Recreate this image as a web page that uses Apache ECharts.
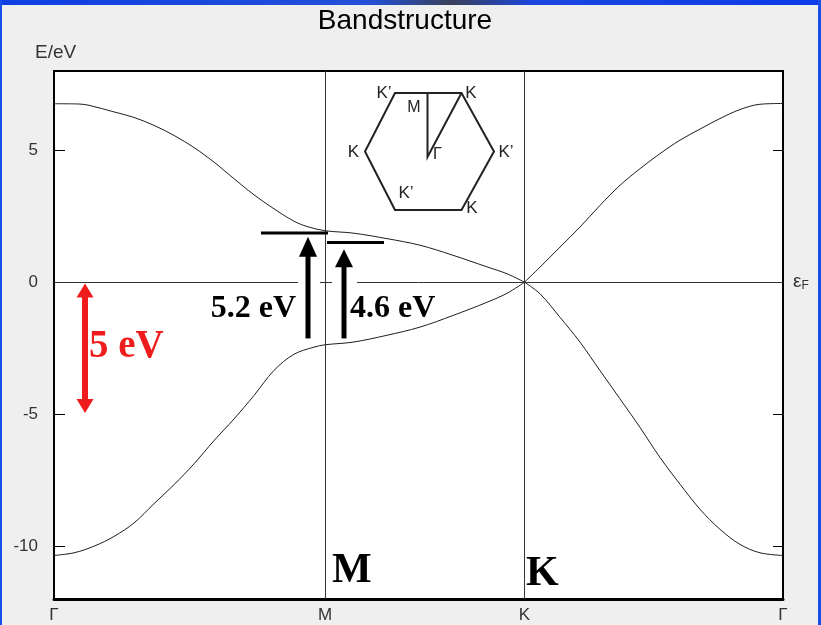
<!DOCTYPE html>
<html>
<head>
<meta charset="utf-8">
<script src="https://cdn.jsdelivr.net/npm/echarts@6/dist/echarts.min.js"></script>
<style>
  html, body { margin: 0; padding: 0; }
  #chart { width: 821px; height: 625px; }
</style>
</head>
<body>
<div id="chart"></div>
<script>
// k-path positions of the high-symmetry points and their labels
const kTicks = [0, 271, 470.5, 729];
const kTickLabels = ['Γ', 'M', 'K', 'Γ'];
const energyTicks = [-10, -5, 0, 5];

// upper (π*) band, [k, E/eV]: Γ → M → K, then K → Γ
const bandUpperGK = [
  [0, 6.76], [25, 6.75], [35, 6.70], [60, 6.45], [80, 6.24], [100, 5.94],
  [120, 5.56], [140, 5.10], [160, 4.55], [180, 3.92], [200, 3.31], [220, 2.78],
  [240, 2.31], [253, 2.11], [271, 1.95], [299, 1.86], [333, 1.65], [366, 1.40],
  [399, 1.02], [433, 0.58], [453, 0.32], [470.5, 0]
];
const bandUpperKG = [
  [470.5, 0], [486, 0.57], [506, 1.33], [526, 2.09], [546, 2.91], [566, 3.67],
  [586, 4.30], [606, 4.87], [626, 5.38], [646, 5.80], [666, 6.20], [686, 6.54],
  [706, 6.74], [729, 6.77]
];

// lower (π) band, [k, E/eV]: Γ → M → K, then K → Γ
const bandLowerGK = [
  [0, -10.35], [20, -10.25], [40, -10.0], [60, -9.63], [80, -9.12], [100, -8.39],
  [120, -7.67], [140, -6.88], [160, -6.0], [180, -5.18], [200, -4.29], [220, -3.34],
  [240, -2.73], [260, -2.46], [271, -2.37], [299, -2.27], [333, -2.01], [366, -1.70],
  [399, -1.26], [433, -0.76], [453, -0.42], [470.5, 0]
];
const bandLowerKG = [
  [470.5, 0], [486, -0.44], [506, -1.33], [526, -2.27], [546, -3.35], [566, -4.42],
  [586, -5.50], [606, -6.64], [626, -7.65], [646, -8.60], [666, -9.36], [686, -9.93],
  [706, -10.25], [729, -10.35]
];

const chart = echarts.init(document.getElementById('chart'), null, { renderer: 'canvas' });

const curveStyle = { color: '#1e1e1e', width: 1 };
function band(data) {
  return {
    type: 'line', data: data, smooth: 0.35, showSymbol: false, silent: true,
    lineStyle: curveStyle, z: 3
  };
}

const guideSeries = {
  type: 'line', data: [], silent: true,
  markLine: {
    silent: true, symbol: 'none', animation: false,
    label: { show: false },
    lineStyle: { color: '#333', width: 1, type: 'solid' },
    data: [{ yAxis: 0 }, { xAxis: kTicks[1] }, { xAxis: kTicks[2] }]
  }
};

const option = {
  animation: false,
  backgroundColor: '#efefef',
  grid: {
    left: 54, top: 71, width: 729, height: 528,
    show: true, backgroundColor: '#ffffff', borderColor: '#000', borderWidth: 2
  },
  xAxis: {
    type: 'value', min: 0, max: 729,
    axisLine: { show: true, onZero: false, lineStyle: { color: '#000', width: 3 } },
    axisTick: { show: false },
    splitLine: { show: false },
    axisLabel: {
      customValues: kTicks,
      formatter: v => kTickLabels[kTicks.indexOf(v)],
      color: '#333', fontSize: 17, fontFamily: 'Liberation Sans', margin: 8
    }
  },
  yAxis: [{
    type: 'value', min: -12, max: 8, position: 'left',
    axisLine: { show: false },
    splitLine: { show: false },
    axisTick: { show: true, inside: true, length: 11, customValues: energyTicks,
                lineStyle: { color: '#000', width: 1 } },
    axisLabel: { customValues: energyTicks, color: '#333', fontSize: 17,
                 fontFamily: 'Liberation Sans', margin: 16 }
  }, {
    type: 'value', min: -12, max: 8, position: 'right',
    axisLine: { show: false },
    splitLine: { show: false },
    axisTick: { show: true, inside: true, length: 10, customValues: energyTicks,
                lineStyle: { color: '#000', width: 1 } },
    axisLabel: {
      customValues: [0], margin: 10,
      formatter: () => '{e|ε}{f|F}',
      rich: {
        e: { fontSize: 19, color: '#333', fontFamily: 'Liberation Sans' },
        f: { fontSize: 12, color: '#333', fontFamily: 'Liberation Sans', padding: [7, 0, 0, 0] }
      }
    }
  }],
  series: [
    guideSeries,
    band(bandUpperGK), band(bandUpperKG),
    band(bandLowerGK), band(bandLowerKG)
  ]
};
chart.setOption(option);

// ---- annotations, placed through the axes ----
const px = (k, e) => chart.convertToPixel({ gridIndex: 0 }, [k, e]);

function upArrow(k, eFrom, eTo, shaftW, headW, headL, color) {
  const b = px(k, eFrom), t = px(k, eTo);
  return [
    { type: 'rect', z: 100, shape: { x: b[0] - shaftW / 2, y: t[1] + headL - 1, width: shaftW, height: b[1] - t[1] - headL + 1 },
      style: { fill: color } },
    { type: 'polygon', z: 100, shape: { points: [[t[0] - headW / 2, t[1] + headL], [t[0] + headW / 2, t[1] + headL], [t[0], t[1]]] },
      style: { fill: color } }
  ];
}
function doubleArrow(k, eTop, eBottom, shaftW, headW, headL, color) {
  const t = px(k, eTop), b = px(k, eBottom);
  return [
    { type: 'rect', z: 100, shape: { x: t[0] - shaftW / 2, y: t[1] + headL - 1, width: shaftW, height: b[1] - t[1] - 2 * headL + 2 },
      style: { fill: color } },
    { type: 'polygon', z: 100, shape: { points: [[t[0] - headW / 2, t[1] + headL], [t[0] + headW / 2, t[1] + headL], [t[0], t[1]]] },
      style: { fill: color } },
    { type: 'polygon', z: 100, shape: { points: [[b[0] - headW / 2, b[1] - headL], [b[0] + headW / 2, b[1] - headL], [b[0], b[1]]] },
      style: { fill: color } }
  ];
}
function levelBar(kFrom, kTo, e) {
  const a = px(kFrom, e), c = px(kTo, e);
  return { type: 'rect', z: 100, shape: { x: a[0], y: a[1] - 1.5, width: c[0] - a[0], height: 3 },
           style: { fill: '#000' } };
}
function text(str, x, y, font, fill, align, vAlign) {
  return { type: 'text', z: 101, x: x, y: y,
           style: { text: str, font: font, fill: fill, align: align || 'left', verticalAlign: vAlign || 'middle' } };
}

const serifBold = sz => 'bold ' + sz + 'px "Liberation Serif", "Times New Roman", serif';
const sans = sz => sz + 'px "Liberation Sans", Arial, sans-serif';

const z0 = px(0, 0)[1];
const elements = [
  // blue frame of the window
  { type: 'rect', z: 0, shape: { x: 0, y: 0, width: 821, height: 5 },
    style: { fill: new echarts.graphic.LinearGradient(0, 0, 1, 0, [
      { offset: 0, color: '#0d3fe4' }, { offset: 0.45, color: '#2450d8' },
      { offset: 0.55, color: '#3a3f5a' }, { offset: 0.65, color: '#1b46e0' }, { offset: 1, color: '#0b3ce8' }]) } },
  { type: 'rect', z: 0, shape: { x: 0, y: 0, width: 2, height: 625 }, style: { fill: '#1a4ee8' } },
  { type: 'rect', z: 0, shape: { x: 818, y: 0, width: 3, height: 625 }, style: { fill: '#1a4ee8' } },

  // white patches behind the two gap arrows, breaking the Fermi line there
  { type: 'rect', z: 50, shape: { x: 298, y: z0 - 3, width: 22, height: 6 }, style: { fill: '#fff' } },
  { type: 'rect', z: 50, shape: { x: 332, y: z0 - 3, width: 25, height: 6 }, style: { fill: '#fff' } },

  text('Bandstructure', 405, 21, sans(28), '#000', 'center'),
  text('E/eV', 35, 53, sans(19), '#333', 'left'),

  levelBar(207, 274, 1.86),
  levelBar(273, 330, 1.50),
  ...upArrow(254, -2.13, 1.72, 5, 18, 20, '#000'),
  ...upArrow(290, -2.13, 1.25, 5, 18, 18, '#000'),
  ...doubleArrow(31, -0.05, -4.95, 6, 17, 14, '#ee1c1c'),

  text('5.2 eV', 296, 309, serifBold(32), '#000', 'right'),
  text('4.6 eV', 350, 309, serifBold(32), '#000', 'left'),
  text('5 eV', 89, 347, serifBold(39), '#ee1c1c', 'left'),
  text('M', 332, 571, serifBold(42), '#000', 'left'),
  text('K', 526, 574, serifBold(42), '#000', 'left'),

  // Brillouin-zone hexagon
  { type: 'polygon', z: 100,
    shape: { points: [[395, 93], [461.5, 93], [494, 151.5], [461.5, 210], [395, 210], [365, 151.5]] },
    style: { fill: 'none', stroke: '#222', lineWidth: 2 } },
  { type: 'polyline', z: 100,
    shape: { points: [[427.5, 93], [427.5, 157], [461.5, 93]] },
    style: { fill: 'none', stroke: '#222', lineWidth: 2 } },
  text('K\u2019', 384, 93, sans(17), '#222', 'center'),
  text('M', 414, 107.5, sans(16), '#222', 'center'),
  text('K', 471, 93, sans(17), '#222', 'center'),
  text('K', 353.5, 152, sans(17), '#222', 'center'),
  text('Γ', 437.5, 155, sans(16), '#222', 'center'),
  text('K\u2019', 506, 152, sans(17), '#222', 'center'),
  text('K\u2019', 406, 193.5, sans(17), '#222', 'center'),
  text('K', 472, 208.5, sans(17), '#222', 'center')
];

chart.setOption({ graphic: { elements: elements } });
</script>
</body>
</html>
